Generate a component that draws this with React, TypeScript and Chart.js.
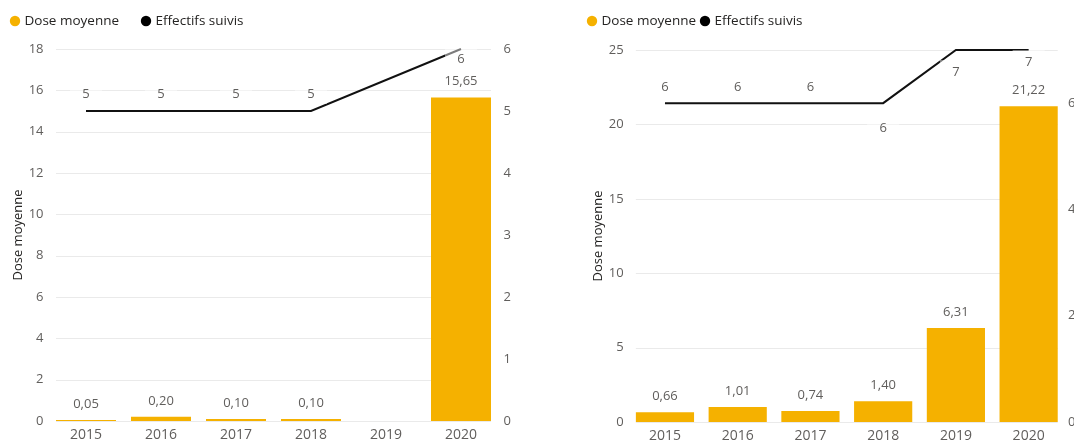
import React, { useEffect, useRef } from 'react';
import { Chart, registerables } from 'chart.js';

Chart.register(...registerables);

// ---------- data ----------
const years = ['2015', '2016', '2017', '2018', '2019', '2020'];
const doseLeft: (number | null)[] = [0.05, 0.2, 0.1, 0.1, null, 15.65];
const effectifsLeft: (number | null)[] = [5, 5, 5, 5, null, 6];
const doseRight: (number | null)[] = [0.66, 1.01, 0.74, 1.4, 6.31, 21.22];
const effectifsRight: (number | null)[] = [6, 6, 6, 6, 7, 7];
const leftDoseTicks = [0, 2, 4, 6, 8, 10, 12, 14, 16, 18];
const leftCountTicks = [0, 1, 2, 3, 4, 5, 6];
const rightDoseTicks = [0, 5, 10, 15, 20, 25];
const rightCountTicks = [0, 2, 4, 6];
const rightCountMax = 7;
const seriesNames = ['Dose moyenne', 'Effectifs suivis'];
const axisTitle = 'Dose moyenne';

// ---------- style ----------
const ORANGE = '#F5B100';
const LINE = '#111111';
const FONT = "'Open Sans', sans-serif";
const TICK_COLOR = '#605E5C';
const LABEL_COLOR = '#605E5C';
const DARK = '#252423';

const fmt = (v: number) => v.toFixed(2).replace('.', ',');

const overlayPlugin = {
  id: 'overlay',
  beforeDatasetsDraw(chart: any) {
    const { ctx, scales } = chart;
    const x = scales.x;
    const y = scales.y;
    const step = x.getPixelForValue(1) - x.getPixelForValue(0);
    const half = step * 0.4;
    const x0 = x.getPixelForValue(0) - half;
    const x1 = x.getPixelForValue(years.length - 1) + half;
    ctx.save();
    ctx.strokeStyle = '#EAEAEA';
    ctx.lineWidth = 1;
    y.ticks.forEach((t: any) => {
      const py = Math.round(y.getPixelForValue(t.value)) + 0.5;
      ctx.beginPath();
      ctx.moveTo(x0, py);
      ctx.lineTo(x1, py);
      ctx.stroke();
    });
    ctx.restore();
  },
  afterDatasetsDraw(chart: any, _args: any, opts: any) {
    const { ctx } = chart;
    ctx.save();
    ctx.textAlign = 'center';
    ctx.textBaseline = 'middle';
    ctx.font = `13px ${FONT}`;
    // bar labels
    const barMeta = chart.getDatasetMeta(1);
    const barData = chart.data.datasets[1].data;
    barMeta.data.forEach((el: any, i: number) => {
      const v = barData[i];
      if (v === null || v === undefined) return;
      ctx.fillStyle = LABEL_COLOR;
      ctx.fillText(fmt(v), el.x, el.y - 16);
    });
    // line labels with translucent background
    const lineMeta = chart.getDatasetMeta(0);
    const lineData = chart.data.datasets[0].data;
    lineMeta.data.forEach((el: any, i: number) => {
      const v = lineData[i];
      if (v === null || v === undefined) return;
      const cy = el.y + opts.lineLabelDy[i];
      ctx.fillStyle = 'rgba(255,255,255,0.45)';
      ctx.fillRect(el.x - 16, cy - 12, 32, 22);
      ctx.fillStyle = LABEL_COLOR;
      ctx.fillText(String(v), el.x, cy);
    });
    // legend
    ctx.textAlign = 'left';
    ctx.font = `13.5px ${FONT}`;
    const colors = [ORANGE, '#000000'];
    opts.legendX.forEach((lx: number, i: number) => {
      ctx.fillStyle = colors[i];
      ctx.beginPath();
      ctx.arc(lx, 21, 5.2, 0, Math.PI * 2);
      ctx.fill();
      ctx.fillStyle = DARK;
      ctx.fillText(seriesNames[i], lx + 9.5, 21);
    });
    ctx.restore();
  },
};

interface P {
  dose: (number | null)[];
  count: (number | null)[];
  doseTicks: number[];
  countTicks: number[];
  countMax: number;
  top: number;
  xHeight: number;
  yWidth: number;
  y1Width: number;
  y1Pad: number;
  legendX: number[];
  lineLabelDy: number[];
}

function buildConfig(p: P): any {
  const tickFont = { family: FONT, size: 13 };
  return {
    type: 'bar',
    data: {
      labels: years,
      datasets: [
        {
          type: 'line',
          label: seriesNames[1],
          data: p.count,
          yAxisID: 'y1',
          borderColor: LINE,
          borderWidth: 2,
          pointRadius: 0,
          spanGaps: true,
          tension: 0,
          clip: false,
          order: 0,
        },
        {
          type: 'bar',
          label: seriesNames[0],
          data: p.dose,
          yAxisID: 'y',
          backgroundColor: ORANGE,
          barPercentage: 0.8,
          categoryPercentage: 1,
          order: 1,
        },
      ],
    },
    options: {
      animation: false,
      responsive: false,
      maintainAspectRatio: false,
      layout: { padding: { top: p.top, left: 0, right: 0, bottom: 0 } },
      plugins: {
        legend: { display: false },
        tooltip: { enabled: false },
        overlay: { legendX: p.legendX, lineLabelDy: p.lineLabelDy },
      },
      scales: {
        x: {
          grid: { display: false, drawTicks: false },
          border: { display: false },
          ticks: { font: { family: FONT, size: 14 }, color: TICK_COLOR, padding: 6, maxRotation: 0 },
          afterFit: (s: any) => { s.height = p.xHeight; },
        },
        y: {
          position: 'left',
          min: 0,
          max: p.doseTicks[p.doseTicks.length - 1],
          grid: { display: false, drawTicks: false },
          border: { display: false },
          afterBuildTicks: (s: any) => { s.ticks = p.doseTicks.map((v) => ({ value: v })); },
          ticks: { font: tickFont, color: TICK_COLOR, padding: 5 },
          title: {
            display: true,
            text: axisTitle,
            color: DARK,
            font: { family: FONT, size: 13 },
            padding: { top: 10, bottom: 0 },
          },
          afterFit: (s: any) => { s.width = p.yWidth; },
        },
        y1: {
          position: 'right',
          min: 0,
          max: p.countMax,
          grid: { display: false, drawTicks: false },
          border: { display: false },
          afterBuildTicks: (s: any) => { s.ticks = p.countTicks.map((v) => ({ value: v })); },
          ticks: { font: tickFont, color: TICK_COLOR, padding: p.y1Pad },
          afterFit: (s: any) => { s.width = p.y1Width; },
        },
      },
    },
    plugins: [overlayPlugin],
  };
}

function ChartCanvas({ cfg, left, width }: { cfg: P; left: number; width: number }) {
  const ref = useRef<HTMLCanvasElement | null>(null);
  useEffect(() => {
    if (!ref.current) return;
    const chart = new Chart(ref.current, buildConfig(cfg));
    return () => chart.destroy();
  }, []);
  return (
    <canvas
      ref={ref}
      width={width}
      height={443}
      style={{ position: 'absolute', left, top: 0, width, height: 443 }}
    />
  );
}

const leftCfg: P = {
  dose: doseLeft,
  count: effectifsLeft,
  doseTicks: leftDoseTicks,
  countTicks: leftCountTicks,
  countMax: leftCountTicks[leftCountTicks.length - 1],
  top: 49,
  xHeight: 22,
  yWidth: 48.5,
  y1Width: 41.5,
  y1Pad: 5,
  legendX: [15, 146],
  lineLabelDy: [-17, -17, -17, -17, 0, 10],
};

const rightCfg: P = {
  dose: doseRight,
  count: effectifsRight,
  doseTicks: rightDoseTicks,
  countTicks: rightCountTicks,
  countMax: rightCountMax,
  top: 50,
  xHeight: 21,
  yWidth: 48.6,
  y1Width: 35,
  y1Pad: 3,
  legendX: [12, 125],
  lineLabelDy: [-16, -16, -16, 25, 22, 12],
};

export default function App() {
  return (
    <div
      style={{
        position: 'fixed',
        left: 0,
        top: 0,
        width: 1074,
        height: 443,
        overflow: 'hidden',
        background: '#ffffff',
      }}
    >
      <ChartCanvas cfg={leftCfg} left={0} width={540} />
      <ChartCanvas cfg={rightCfg} left={580} width={520} />
    </div>
  );
}
